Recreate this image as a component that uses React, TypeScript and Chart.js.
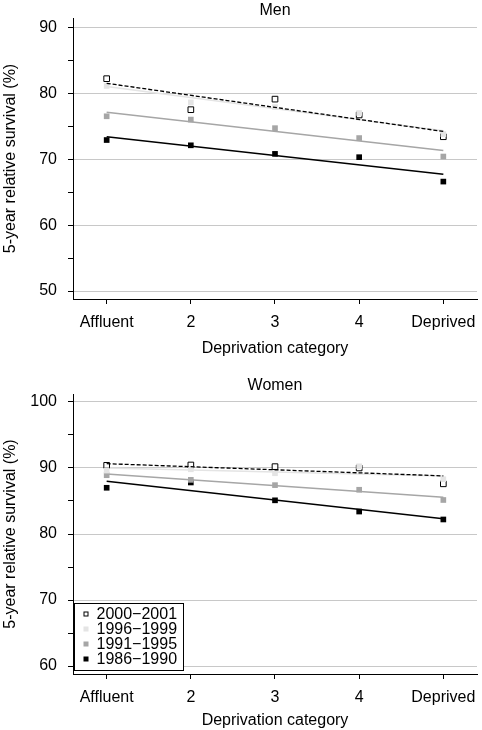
import React, { useEffect, useRef } from "react";
import { Chart, registerables } from "chart.js";

Chart.register(...registerables);

// ---------- data ----------
const categories = ["Affluent", "2", "3", "4", "Deprived"];
const periods = ["2000\u22122001", "1996\u22121999", "1991\u22121995", "1986\u22121990"];

const men2000 = [82.2, 77.5, 79.1, 76.7, 73.4];
const men1996 = [81.1, 78.6, 77.9, 77.0, 73.8];
const men1991 = [76.5, 76.0, 74.7, 73.2, 70.4];
const men1986 = [72.9, 72.1, 70.8, 70.3, 66.6];
// fitted trend lines: value at Affluent, value at Deprived
const menFit2000 = [81.5, 74.2];
const menFit1996 = [81.0, 74.3];
const menFit1991 = [77.1, 71.3];
const menFit1986 = [73.4, 67.7];

const women2000 = [90.4, 90.45, 90.2, 90.0, 87.6];
const women1996 = [89.6, 89.8, 89.2, 90.25, 88.3];
const women1991 = [88.9, 88.2, 87.4, 86.7, 85.15];
const women1986 = [87.0, 87.8, 85.1, 83.4, 82.2];
const womenFit2000 = [90.65, 88.8];
const womenFit1996 = [90.0, 88.8];
const womenFit1991 = [89.1, 85.55];
const womenFit1986 = [88.0, 82.3];

const menYTicks = [50, 55, 60, 65, 70, 75, 80, 85, 90];
const womenYTicks = [60, 65, 70, 75, 80, 85, 90, 95, 100];
const menYRange = [48.8, 91.4];
const womenYRange = [58.8, 101.2];
const xRange = [0.6, 5.4];

// ---------- styles ----------
const FONT = "'Liberation Sans', Arial, Helvetica, sans-serif";
const styles = [
  { fill: "#ffffff", border: "#000000", bw: 1, line: "#000000", lw: 1.3, dash: [4, 2] },
  { fill: "#e4e4e4", border: "#e4e4e4", bw: 0, line: "#e4e4e4", lw: 1.5, dash: [] },
  { fill: "#a6a6a6", border: "#a6a6a6", bw: 0, line: "#a6a6a6", lw: 1.5, dash: [] },
  { fill: "#000000", border: "#000000", bw: 0, line: "#000000", lw: 1.5, dash: [] },
];
// draw order (lower = on top): [points, fit] per period
const orders = [
  [3, 1],
  [2, 4],
  [6, 5],
  [8, 7],
];

type PanelCfg = {
  title: string;
  series: number[][];
  fits: number[][];
  yTicks: number[];
  yRange: number[];
  titlePad: { top: number; bottom: number };
  xHeight: number;
  xLabelPad: number;
  xTitlePadBottom: number;
  legend: boolean;
};

const boxLegend = {
  id: "boxLegend",
  afterDraw(chart: any) {
    const opts = chart.options.plugins.boxLegend;
    if (!opts || !opts.show) return;
    const { ctx, chartArea } = chart;
    const w = 109;
    const h = 67;
    const left = chartArea.left + 1.5;
    const top = chartArea.bottom - 4 - h + 0.5;
    ctx.save();
    ctx.fillStyle = "#ffffff";
    ctx.fillRect(left, top, w, h);
    ctx.strokeStyle = "#000000";
    ctx.lineWidth = 1;
    ctx.strokeRect(left, top, w, h);
    ctx.font = `16px ${FONT}`;
    ctx.textBaseline = "middle";
    ctx.textAlign = "left";
    periods.forEach((p, i) => {
      const cy = top + 10.5 + i * 15;
      const st = styles[i];
      const s = 5;
      ctx.fillStyle = st.fill;
      ctx.fillRect(left + 9, cy - s / 2, s, s);
      if (st.bw) {
        ctx.strokeStyle = st.border;
        ctx.strokeRect(left + 9 + 0.5, cy - s / 2 + 0.5, s - 1, s - 1);
      }
      ctx.fillStyle = "#000000";
      ctx.fillText(p, left + 22, cy + 1);
    });
    ctx.restore();
  },
};

function buildConfig(p: PanelCfg): any {
  const datasets: any[] = [];
  p.series.forEach((vals, i) => {
    const st = styles[i];
    datasets.push({
      type: "scatter",
      label: periods[i],
      data: vals.map((v, k) => ({ x: k + 1, y: v })),
      pointStyle: "rect",
      pointRadius: 4,
      backgroundColor: st.fill,
      borderColor: st.border,
      borderWidth: st.bw,
      showLine: false,
      order: orders[i][0],
    });
    const fit = p.fits[i];
    datasets.push({
      type: "line",
      label: periods[i] + " fit",
      data: [
        { x: 1, y: fit[0] },
        { x: categories.length, y: fit[1] },
      ],
      pointRadius: 0,
      borderColor: st.line,
      borderWidth: st.lw,
      borderDash: st.dash,
      fill: false,
      order: orders[i][1],
    });
  });

  const font = { family: FONT, size: 16 };
  return {
    type: "scatter",
    data: { datasets },
    plugins: [boxLegend],
    options: {
      animation: false,
      responsive: false,
      events: [],
      layout: { padding: { left: 0, right: 5, top: 0, bottom: 0 } },
      plugins: {
        legend: { display: false },
        tooltip: { enabled: false },
        title: {
          display: true,
          fullSize: false,
          text: p.title,
          color: "#000",
          font: { ...font, weight: "normal", lineHeight: 1 },
          padding: p.titlePad,
        },
        boxLegend: { show: p.legend },
      },
      scales: {
        x: {
          type: "linear",
          min: xRange[0],
          max: xRange[1],
          afterBuildTicks: (s: any) => {
            s.ticks = categories.map((_, i) => ({ value: i + 1 }));
          },
          afterFit: (s: any) => {
            s.height = p.xHeight;
            s.paddingLeft = 0;
            s.paddingRight = 0;
          },
          ticks: {
            autoSkip: false,
            maxRotation: 0,
            padding: p.xLabelPad,
            color: "#000",
            font,
            callback: (v: any) => categories[Math.round(v) - 1] ?? "",
          },
          grid: {
            drawOnChartArea: false,
            drawTicks: true,
            tickLength: 5,
            tickColor: "#000",
            color: "#000",
          },
          border: { display: true, color: "#000", width: 1 },
          title: {
            display: true,
            text: "Deprivation category",
            color: "#000",
            font,
            padding: { top: 0, bottom: p.xTitlePadBottom },
          },
        },
        y: {
          type: "linear",
          min: p.yRange[0],
          max: p.yRange[1],
          afterBuildTicks: (s: any) => {
            s.ticks = p.yTicks.map((v) => ({ value: v }));
          },
          afterFit: (s: any) => {
            s.width = 73;
            s.paddingTop = 0;
            s.paddingBottom = 0;
          },
          ticks: {
            autoSkip: false,
            padding: 11,
            color: "#000",
            font,
            callback: (v: any) => (v % 10 === 0 ? String(v) : ""),
          },
          grid: {
            drawTicks: true,
            tickLength: 5,
            tickColor: "#000",
            lineWidth: 1,
            color: (ctx: any) =>
              ctx.tick && ctx.tick.value % 10 === 0 ? "#c8c8c8" : "rgba(0,0,0,0)",
          },
          border: { display: true, color: "#000", width: 1 },
          title: {
            display: true,
            text: "5-year relative survival (%)",
            color: "#000",
            font,
            padding: { top: 1, bottom: 0 },
          },
        },
      },
    },
  };
}

function Panel({ cfg, width, height, top }: { cfg: PanelCfg; width: number; height: number; top: number }) {
  const ref = useRef<HTMLCanvasElement | null>(null);
  useEffect(() => {
    if (!ref.current) return;
    const chart = new Chart(ref.current, buildConfig(cfg));
    return () => chart.destroy();
  }, [cfg]);
  return (
    <canvas
      ref={ref}
      width={width}
      height={height}
      style={{ position: "absolute", left: 0, top, width, height, display: "block" }}
    />
  );
}

const menCfg: PanelCfg = {
  title: "Men",
  series: [men2000, men1996, men1991, men1986],
  fits: [menFit2000, menFit1996, menFit1991, menFit1986],
  yTicks: menYTicks,
  yRange: menYRange,
  titlePad: { top: 3, bottom: -1 },
  xHeight: 61,
  xLabelPad: 8.5,
  xTitlePadBottom: 1.4,
  legend: false,
};

const womenCfg: PanelCfg = {
  title: "Women",
  series: [women2000, women1996, women1991, women1986],
  fits: [womenFit2000, womenFit1996, womenFit1991, womenFit1986],
  yTicks: womenYTicks,
  yRange: womenYRange,
  titlePad: { top: 17.5, bottom: 0.5 },
  xHeight: 56,
  xLabelPad: 8.5,
  xTitlePadBottom: -0.5,
  legend: true,
};

export default function App() {
  return (
    <div style={{ position: "absolute", left: 0, top: 0, width: 482, height: 730, background: "#fff" }}>
      <Panel cfg={menCfg} width={482} height={360} top={0} />
      <Panel cfg={womenCfg} width={482} height={370} top={360} />
    </div>
  );
}
